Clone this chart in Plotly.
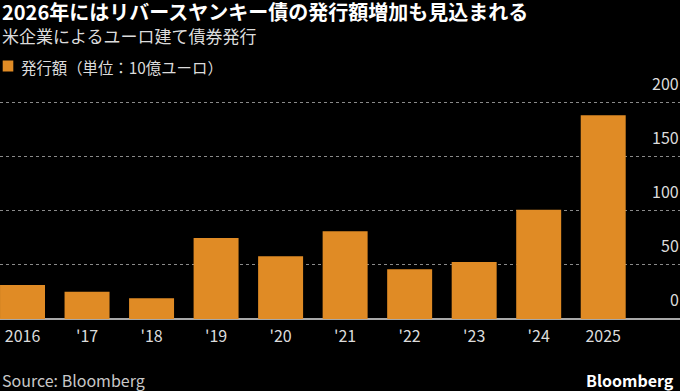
import plotly.graph_objects as go

years = ["2016", "'17", "'18", "'19", "'20", "'21", "'22", "'23", "'24", "2025"]
issuance = [31.5, 25.3, 19.1, 75, 58, 81.2, 46, 52.8, 101, 188.3]
y_ticks = [0, 50, 100, 150, 200]

title = "2026年にはリバースヤンキー債の発行額増加も見込まれる"
subtitle = "米企業によるユーロ建て債券発行"
series_name = "発行額（単位：10億ユーロ）"
source = "Source: Bloomberg"

FONT = "Noto Sans CJK JP"
BAR = "#e08b25"
W, H = 680, 391
M_T, M_B, M_L, M_R = 95, 72, 0, 0
PH = H - M_T - M_B
PX_PER_UNIT = 1.0815


def ypaper(px):
    return (H - M_B - px) / PH


fig = go.Figure()
fig.add_trace(go.Bar(
    x=list(range(len(years))), y=issuance, marker=dict(color=BAR, line=dict(width=0)),
    name=series_name, showlegend=False, width=0.697,
))

fig.update_layout(
    width=W, height=H,
    margin=dict(t=M_T, b=M_B, l=M_L, r=M_R, pad=0),
    paper_bgcolor="#000000", plot_bgcolor="#000000",
    font=dict(family=FONT, color="#dcdcdc", size=16),
    xaxis=dict(
        tickmode="array", tickvals=list(range(len(years))), ticktext=years,
        range=[-0.349, 10.19], showgrid=False, zeroline=False,
        ticks="", ticklabelstandoff=6,
        tickfont=dict(family=FONT, size=16, color="#dcdcdc"),
        showline=False, fixedrange=True,
    ),
    yaxis=dict(
        range=[0, PH / PX_PER_UNIT], tickvals=y_ticks, showticklabels=False,
        showgrid=True, gridcolor="#8a8a8a", griddash="dot", gridwidth=1,
        zeroline=True, zerolinecolor="#a8a8a8", zerolinewidth=2,
        fixedrange=True,
    ),
)

for v in y_ticks:
    fig.add_annotation(
        x=1, xref="paper", xanchor="right", xshift=1, y=v, yref="y", yanchor="bottom",
        yshift=6, text=str(v), showarrow=False,
        font=dict(family=FONT, size=16, color="#dcdcdc"),
    )

fig.add_annotation(
    x=0, xref="paper", xanchor="left", xshift=0, y=ypaper(11.5), yref="paper",
    yanchor="middle", text="<b>" + title + "</b>", showarrow=False,
    font=dict(family=FONT, size=20, color="#ffffff"),
)
fig.add_annotation(
    x=0, xref="paper", xanchor="left", y=ypaper(36), yref="paper",
    yanchor="middle", text=subtitle, showarrow=False,
    font=dict(family=FONT, size=17, color="#dcdcdc"),
)
fig.add_shape(
    type="rect", xref="paper", yref="paper", xsizemode="pixel", ysizemode="pixel",
    xanchor=0, yanchor=ypaper(66), x0=2.7, x1=13.3, y0=-5.5, y1=5.5,
    fillcolor=BAR, line=dict(width=0),
)
fig.add_annotation(
    x=0, xref="paper", xanchor="left", xshift=19, y=ypaper(66.5), yref="paper",
    yanchor="middle", text=series_name, showarrow=False,
    font=dict(family=FONT, size=15.4, color="#dcdcdc"),
)
fig.add_annotation(
    x=0, xref="paper", xanchor="left", y=ypaper(380), yref="paper",
    yanchor="middle", text=source, showarrow=False,
    font=dict(family=FONT, size=16, color="#c8c8c8"),
)
fig.add_annotation(
    x=1, xref="paper", xanchor="right", xshift=-4, y=ypaper(380), yref="paper",
    yanchor="middle", text="<b>Bloomberg</b>", showarrow=False,
    font=dict(family=FONT, size=16, color="#ffffff"),
)

fig.write_html(
    "out.html",
    config={"displayModeBar": False},
    post_script="document.body.style.margin='0';document.body.style.background='#000';",
)
